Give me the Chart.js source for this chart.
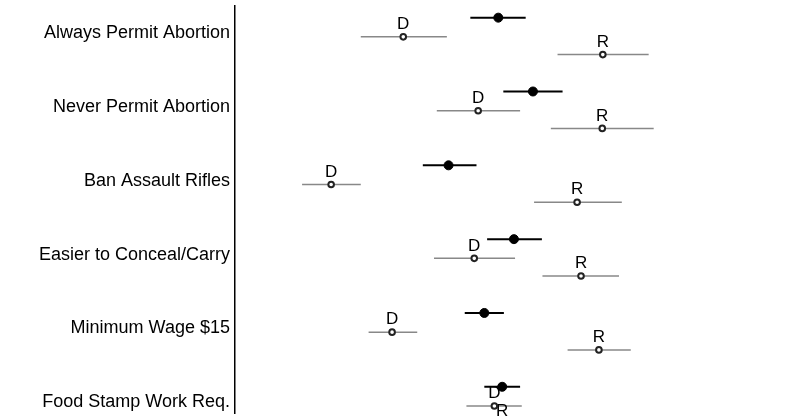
<!DOCTYPE html>
<html><head><meta charset="utf-8">
<script src="https://cdn.jsdelivr.net/npm/chart.js@4"></script>
<style>html,body{margin:0;padding:0;background:#fff}#w{width:800px;height:419px}</style>
</head><body><div id="w"><canvas id="c"></canvas></div>
<script>
const categories=["Always Permit Abortion","Never Permit Abortion","Ban Assault Rifles","Easier to Conceal/Carry","Minimum Wage $15","Food Stamp Work Req."];
const allEst=[47.1,53.3,38.2,49.9,44.6,47.8];
const allLo=[42.1,48.0,33.6,45.1,41.1,44.6];
const allHi=[52.0,58.6,43.2,54.9,48.1,51.0];
const demEst=[30.1,43.5,17.2,42.8,28.1,46.4];
const demLo=[22.5,36.1,12.0,35.6,23.9,41.4];
const demHi=[37.9,51.0,22.5,50.1,32.6,51.3];
const repEst=[65.8,65.7,61.2,61.9,65.1,47.8];
const repLo=[57.7,56.5,53.5,55.0,59.5,43.0];
const repHi=[74.0,74.9,69.2,68.7,70.8,53.0];
const offAll=-0.21, offD=0.05, offR=0.29;
const pts=(est,off)=>est.map((x,i)=>({x:x,y:i+off}));
const groups=[[allEst,allLo,allHi,offAll,'#000',2,null],[demEst,demLo,demHi,offD,'#888',1.5,'D'],[repEst,repLo,repHi,offR,'#888',1.5,'R']];
const bars={id:'bars',beforeDatasetsDraw(ch){const c=ch.ctx,xs=ch.scales.x,ys=ch.scales.y;c.save();
for(const [e,lo,hi,off,col,w,lab] of groups){c.strokeStyle=col;c.lineWidth=w;
for(let i=0;i<e.length;i++){const y=ys.getPixelForValue(i+off);c.beginPath();c.moveTo(xs.getPixelForValue(lo[i]),y);c.lineTo(xs.getPixelForValue(hi[i]),y);c.stroke();
if(lab){c.fillStyle='#000';c.font='17px "Liberation Sans", Arial';c.textAlign='center';c.textBaseline='bottom';c.fillText(lab,xs.getPixelForValue(e[i]),y-4);}}}
c.restore();}};
new Chart(document.getElementById('c'),{type:'scatter',
data:{datasets:[
{data:pts(allEst,offAll),pointRadius:4.5,pointBackgroundColor:'#000',pointBorderColor:'#000'},
{data:pts(demEst,offD),pointRadius:2.8,pointBackgroundColor:'#fff',pointBorderColor:'#222',pointBorderWidth:2},
{data:pts(repEst,offR),pointRadius:2.8,pointBackgroundColor:'#fff',pointBorderColor:'#222',pointBorderWidth:2}]},
options:{responsive:true,maintainAspectRatio:false,animation:false,layout:{padding:0},
plugins:{legend:{display:false},tooltip:{enabled:false}},
scales:{x:{min:0,max:100,display:false},
y:{min:-0.368,max:5.145,reverse:true,grid:{display:false,drawTicks:false},border:{display:true,color:'#000',width:1.5},
afterBuildTicks(s){s.ticks=categories.map((_,i)=>({value:i}));},
afterFit(s){s.width=235;s.paddingTop=0;s.paddingBottom=0;},
ticks:{color:'#000',padding:5,font:{size:18,family:'"Liberation Sans", Arial',lineHeight:0.01},callback:(v)=>categories[v]}}}},
plugins:[bars]});
</script></body></html>
